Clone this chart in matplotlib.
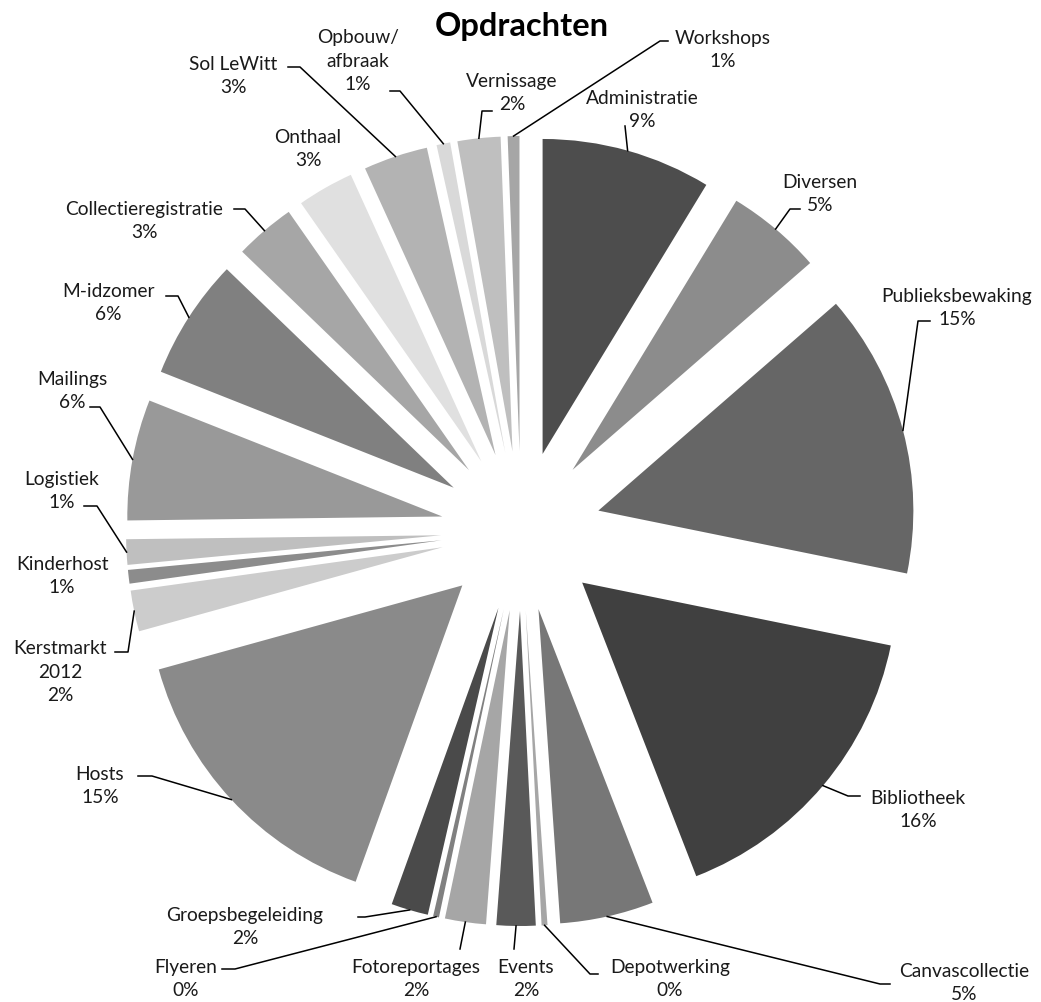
import numpy as np
import matplotlib.pyplot as plt

# slices, clockwise from 12 o'clock
labels = ["Administratie", "Diversen", "Publieksbewaking", "Bibliotheek",
          "Canvascollectie", "Depotwerking", "Events", "Fotoreportages",
          "Flyeren", "Groepsbegeleiding", "Hosts", "Kerstmarkt\n2012",
          "Kinderhost", "Logistiek", "Mailings", "M-idzomer",
          "Collectieregistratie", "Onthaal", "Sol LeWitt", "Opbouw/\nafbraak",
          "Vernissage", "Workshops"]
values = [8.7, 4.9, 14.6, 15.9, 4.8, 0.3, 2.0, 2.1, 0.3, 1.9, 15.2,
          2.1, 0.7, 1.3, 6.2, 6.2, 3.1, 2.9, 3.3, 0.7, 2.2, 0.6]
greys = ["#4d4d4d", "#8c8c8c", "#666666", "#404040", "#777777", "#a6a6a6",
         "#595959", "#a6a6a6", "#808080", "#4a4a4a", "#8a8a8a", "#cccccc",
         "#8c8c8c", "#bfbfbf", "#999999", "#808080", "#a6a6a6", "#e0e0e0",
         "#b3b3b3", "#d9d9d9", "#bfbfbf", "#a6a6a6"]

# label layout in reference pixels (y down): text centre, leader elbow, stub end
W, H = 1041, 1003
label_pos = [(642, 110), (820, 194), (957, 308), (918, 810), (964, 983),
             (670, 979), (526, 979), (416, 979), (186, 979), (245, 927),
             (100, 786), (60, 672), (62, 576), (62, 491), (72, 391),
             (108, 303), (144, 221), (308, 149), (233, 76), (358, 61),
             (512, 93), (723, 50)]
elbows = [(625, 127), (790, 210), (918, 322), (848, 797), (880, 985),
          (590, 975), (514, 950), (460, 950), (235, 970), (365, 918),
          (152, 777), (128, 653), None, (97, 507), (100, 408),
          (178, 297), (245, 210), None, (300, 68), (400, 92),
          (482, 112), (660, 42)]
stubs = [None, (800, 210), (930, 322), (860, 797), (890, 985),
         (598, 975), None, None, (222, 970), (358, 918),
         (138, 777), (115, 653), None, (84, 507), (90, 408),
         (166, 297), (234, 210), None, (288, 68), (390, 92),
         (492, 112), (668, 42)]

plt.rcParams['font.family'] = ['Lato', 'DejaVu Sans']


def px(p):
    return (p[0], H - p[1])


fig = plt.figure(figsize=(W / 100, H / 100), dpi=100)
ax = fig.add_axes([0, 0, 1, 1])

R = 315
cx, cy = px((521, 532))
wedges, _ = ax.pie(values, colors=greys, startangle=90, counterclock=False,
                   radius=R, center=(cx, cy), explode=[80] * len(values),
                   wedgeprops=dict(linewidth=0))
ax.set_xlim(0, W)
ax.set_ylim(0, H)
ax.set_aspect('equal')
ax.axis('off')

total = sum(values)
for i, w in enumerate(wedges):
    pct = round(values[i] / total * 100)
    ax.text(*px(label_pos[i]), f"{labels[i]}\n{pct}%", ha='center', va='center',
            multialignment='center', fontsize=13.8, linespacing=1.45,
            color='#1a1a1a')
    if elbows[i] is None:
        continue
    mid = np.deg2rad((w.theta1 + w.theta2) / 2)
    x0 = w.center[0] + R * np.cos(mid)
    y0 = w.center[1] + R * np.sin(mid)
    pts = [(x0, y0), px(elbows[i])]
    if stubs[i] is not None:
        pts.append(px(stubs[i]))
    xs, ys = zip(*pts)
    ax.plot(xs, ys, color='black', lw=1.1)

ax.text(522, H - 26, "Opdrachten", ha='center', va='center',
        fontsize=23.5, fontweight='bold')

fig.savefig("out.png", dpi=100)
